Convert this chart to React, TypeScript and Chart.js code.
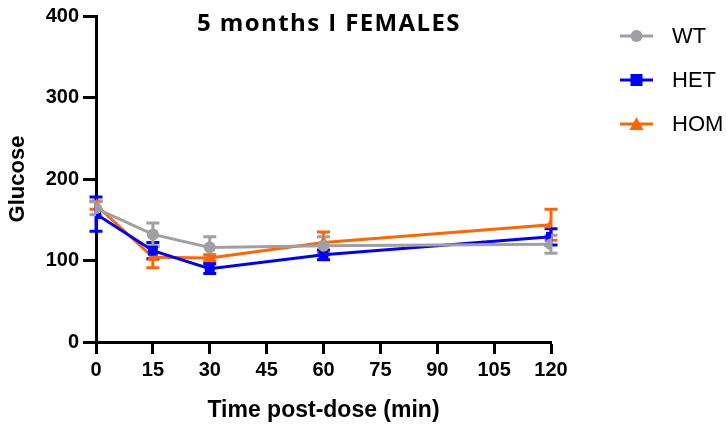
import React, { useEffect, useRef } from "react";
import { Chart, registerables } from "chart.js";

Chart.register(...registerables);

const timePoints = [0, 15, 30, 60, 120];
const xTicks = [0, 15, 30, 45, 60, 75, 90, 105, 120];
const yTicks = [0, 100, 200, 300, 400];

const wtMean = [164, 132, 116, 118, 120];
const wtErr = [8, 14, 13, 11, 11];
const hetMean = [157, 112, 90, 107, 129];
const hetErr = [21, 10, 6, 6, 10];
const homMean = [168, 104, 103, 122, 144];
const homErr = [5, 13, 4, 13, 19];

const seriesNames = ["WT", "HET", "HOM"];
const seriesColors = ["#A0A0A4", "#0000FF", "#FF6600"];
const seriesMarkers = ["circle", "rect", "triangle"];
const seriesMeans = [wtMean, hetMean, homMean];
const seriesErrs = [wtErr, hetErr, homErr];

const titleText = "5 months I FEMALES";
const xTitle = "Time post-dose (min)";
const yTitle = "Glucose";

const SANS = 'Arial, "Liberation Sans", sans-serif';

const errorBarPlugin = {
  id: "errorBars",
  beforeDatasetsDraw(chart: any) {
    const ctx = chart.ctx;
    const xs = chart.scales.x;
    const ys = chart.scales.y;
    ctx.save();
    for (let d = seriesMeans.length - 1; d >= 0; d--) {
      ctx.strokeStyle = seriesColors[d];
      ctx.lineWidth = 3;
      for (let i = 0; i < timePoints.length; i++) {
        const px = xs.getPixelForValue(timePoints[i]);
        const top = ys.getPixelForValue(seriesMeans[d][i] + seriesErrs[d][i]);
        const bot = ys.getPixelForValue(seriesMeans[d][i] - seriesErrs[d][i]);
        ctx.beginPath();
        ctx.moveTo(px, top);
        ctx.lineTo(px, bot);
        ctx.moveTo(px - 6.5, top);
        ctx.lineTo(px + 6.5, top);
        ctx.moveTo(px - 6.5, bot);
        ctx.lineTo(px + 6.5, bot);
        ctx.stroke();
      }
    }
    ctx.restore();
  },
};

const decorPlugin = {
  id: "decor",
  afterDraw(chart: any) {
    const ctx = chart.ctx;
    ctx.save();
    ctx.fillStyle = "#000";
    ctx.font = 'bold 24px "Open Sans", Lato, sans-serif';
    try { (ctx as any).letterSpacing = "1.4px"; } catch (e) {}
    ctx.textAlign = "center";
    ctx.textBaseline = "middle";
    ctx.fillText(titleText, 329, 24);
    try { (ctx as any).letterSpacing = "0px"; } catch (e) {}

    // legend
    const lx = 620;
    const ys = [36, 80, 124];
    for (let i = 0; i < seriesNames.length; i++) {
      const y = ys[i];
      ctx.strokeStyle = seriesColors[i];
      ctx.fillStyle = seriesColors[i];
      ctx.lineWidth = 3;
      ctx.beginPath();
      ctx.moveTo(lx, y);
      ctx.lineTo(lx + 33, y);
      ctx.stroke();
      const cx = lx + 16.5;
      ctx.beginPath();
      if (seriesMarkers[i] === "circle") {
        ctx.arc(cx, y, 6, 0, Math.PI * 2);
      } else if (seriesMarkers[i] === "rect") {
        ctx.rect(cx - 6, y - 6, 12, 12);
      } else {
        ctx.moveTo(cx, y - 7);
        ctx.lineTo(cx + 7, y + 6);
        ctx.lineTo(cx - 7, y + 6);
        ctx.closePath();
      }
      ctx.fill();
      ctx.fillStyle = "#000";
      ctx.font = "22px " + SANS;
      ctx.textAlign = "left";
      ctx.textBaseline = "middle";
      ctx.fillText(seriesNames[i], 672, y + 1);
    }
    ctx.restore();
  },
};

export default function App() {
  const ref = useRef<HTMLCanvasElement | null>(null);
  useEffect(() => {
    if (!ref.current) return;
    const tickFont = { family: SANS, size: 20, weight: "bold" as const };
    const chart = new Chart(ref.current, {
      type: "line",
      data: {
        datasets: seriesNames.map((name, d) => ({
          label: name,
          data: timePoints.map((t, i) => ({ x: t, y: seriesMeans[d][i] })),
          borderColor: seriesColors[d],
          backgroundColor: seriesColors[d],
          borderWidth: 3,
          pointStyle: seriesMarkers[d] as any,
          pointRadius: d === 0 ? 6 : 7,
          pointBorderWidth: 0,
          pointHoverRadius: 7,
          tension: 0,
        })),
      },
      options: {
        animation: false,
        responsive: false,
        events: [],
        layout: { padding: { left: 0, top: 13, right: 176, bottom: 0 } },
        plugins: { legend: { display: false }, tooltip: { enabled: false }, title: { display: false } },
        scales: {
          x: {
            type: "linear",
            min: 0,
            max: 120,
            afterFit(scale: any) { scale.height = 86; },
            afterBuildTicks(scale: any) { scale.ticks = xTicks.map((v) => ({ value: v })); },
            ticks: { color: "#000", font: tickFont, padding: 4, maxRotation: 0, autoSkip: false },
            grid: { drawOnChartArea: false, tickLength: 12, tickColor: "#000", tickWidth: 3 },
            border: { color: "#000", width: 3 },
            title: { display: true, text: xTitle, color: "#000", font: { family: SANS, size: 23, weight: "bold" }, padding: { top: 0, bottom: 4 } },
          },
          y: {
            min: 0,
            max: 400,
            afterFit(scale: any) { scale.width = 96; },
            afterBuildTicks(scale: any) { scale.ticks = yTicks.map((v) => ({ value: v })); },
            ticks: { color: "#000", font: tickFont, padding: 4 },
            grid: { drawOnChartArea: false, tickLength: 13, tickColor: "#000", tickWidth: 3 },
            border: { color: "#000", width: 3 },
            title: { display: true, text: yTitle, color: "#000", font: { family: SANS, size: 22, weight: "bold" }, padding: { top: 5, bottom: 0 } },
          },
        },
      },
      plugins: [errorBarPlugin, decorPlugin],
    });
    return () => chart.destroy();
  }, []);
  return (
    <div style={{ position: "fixed", left: 0, top: 0, width: 727, height: 428, background: "#fff" }}>
      <canvas ref={ref} width={727} height={428} />
    </div>
  );
}
